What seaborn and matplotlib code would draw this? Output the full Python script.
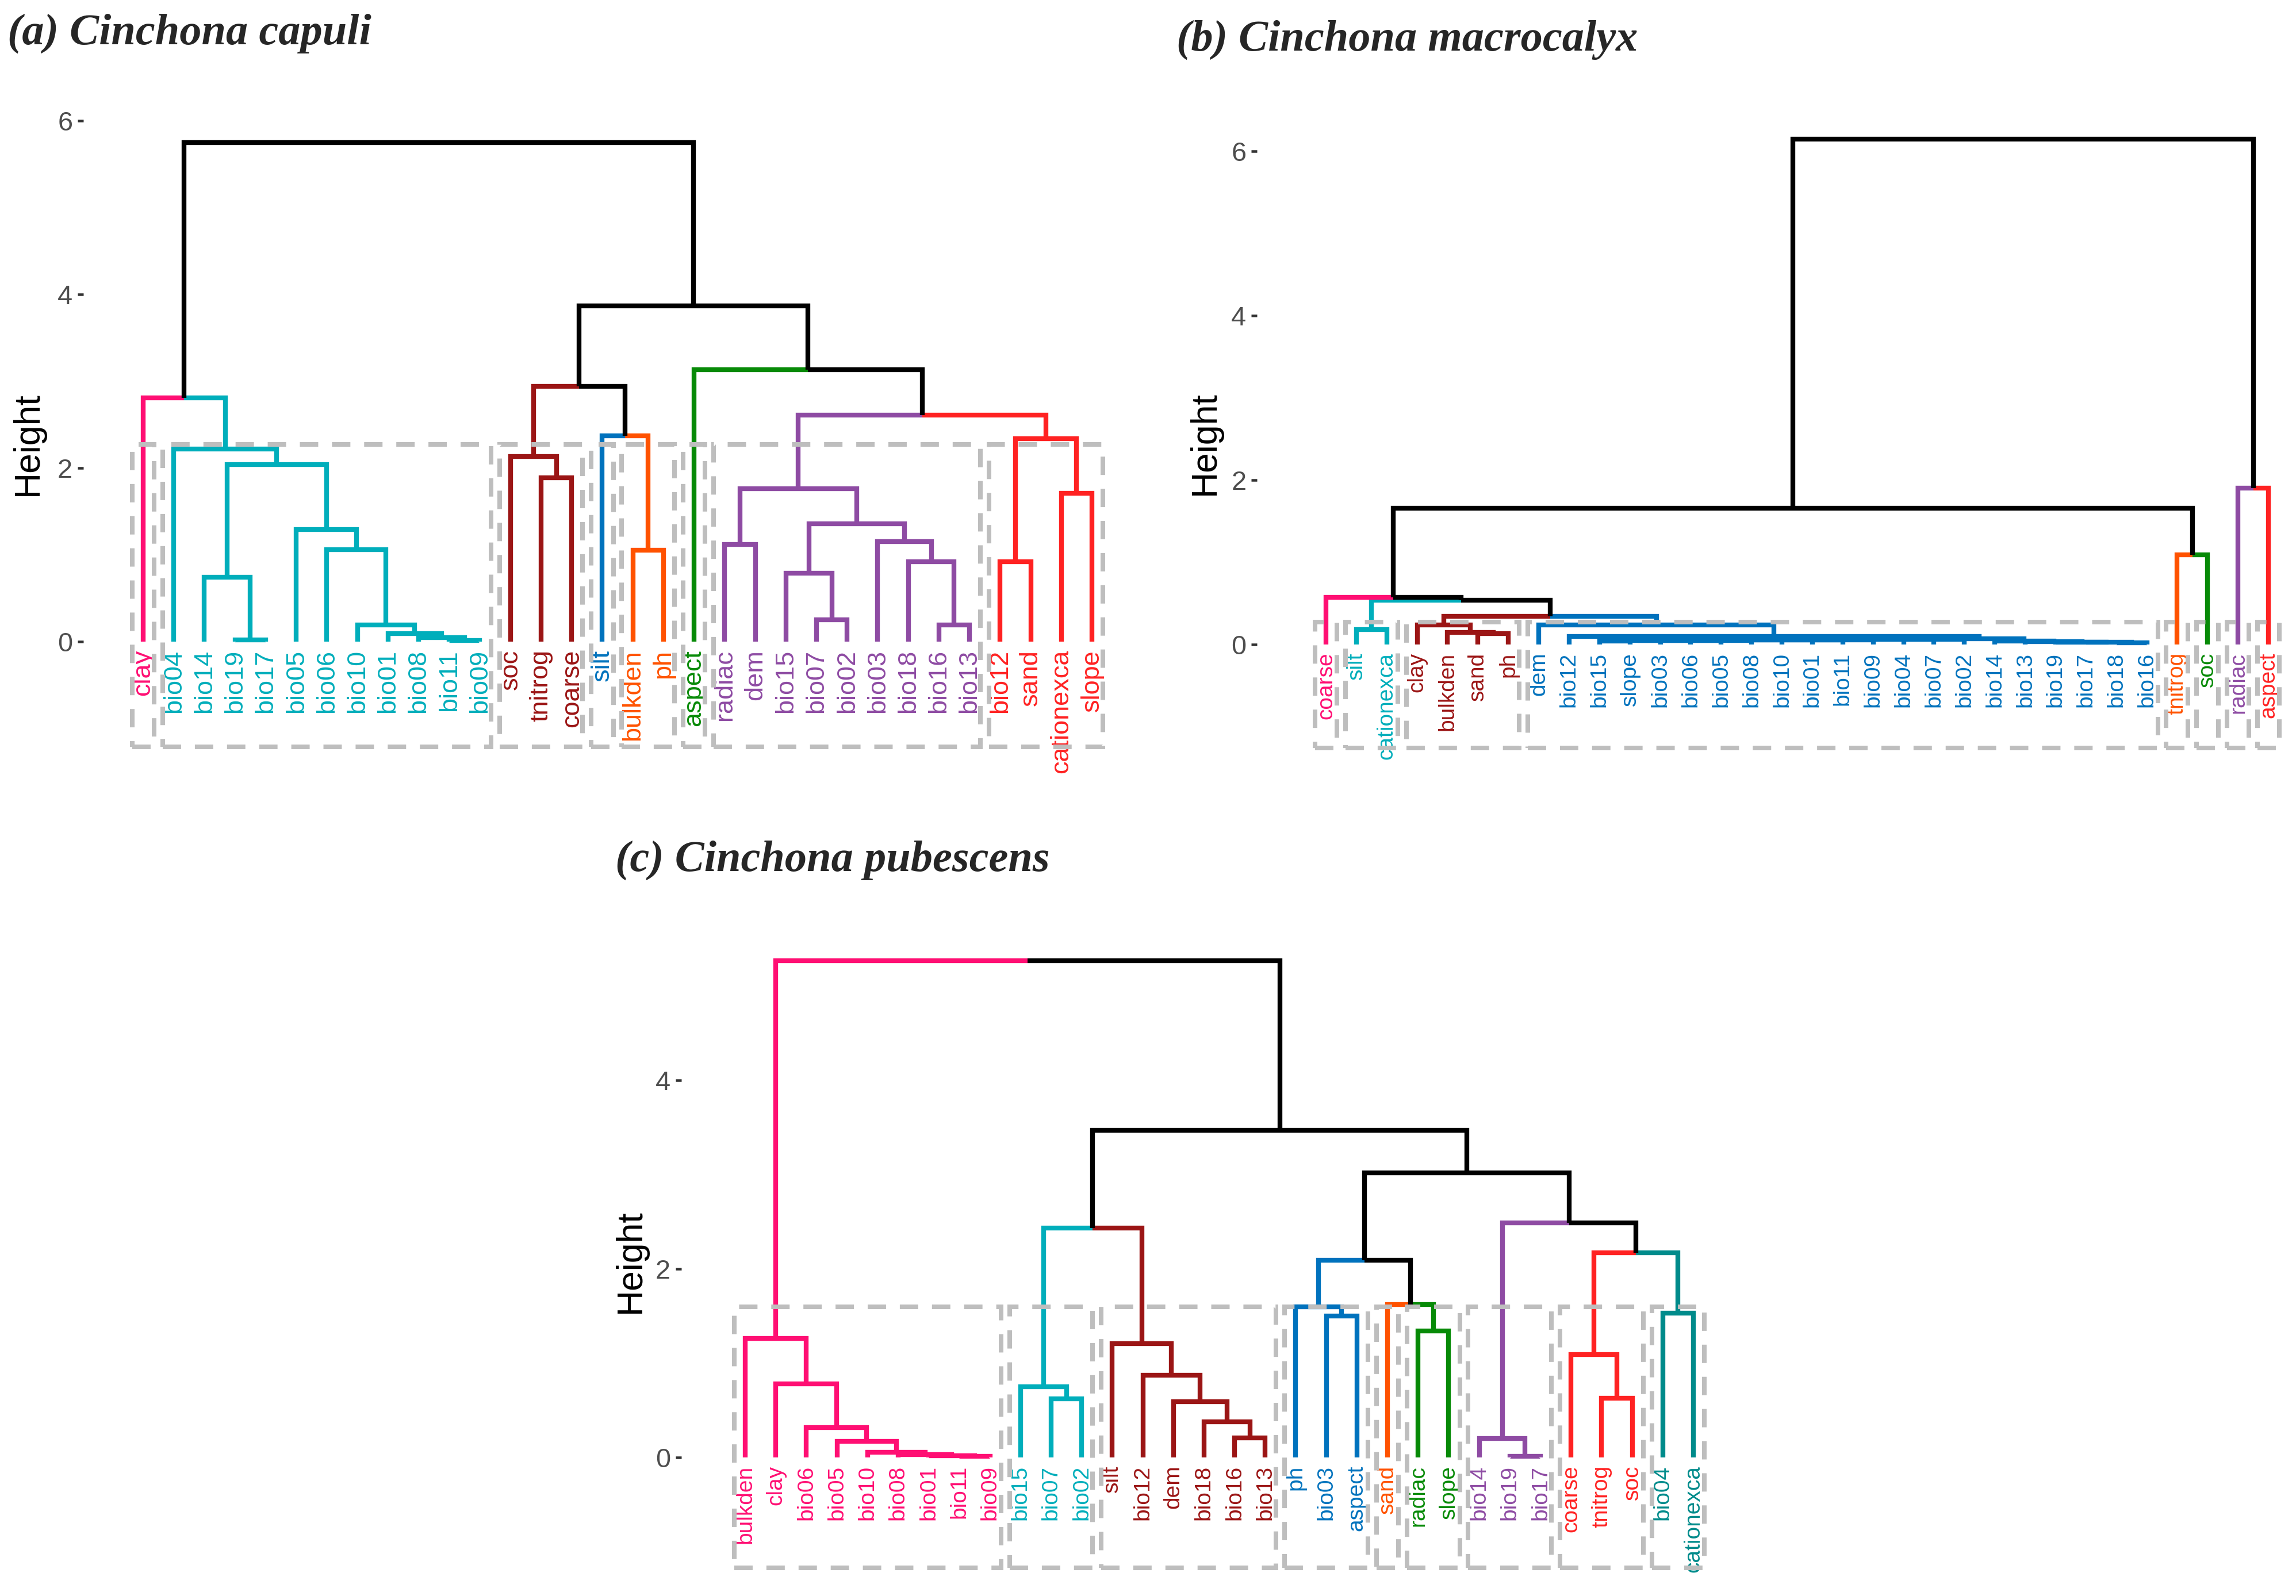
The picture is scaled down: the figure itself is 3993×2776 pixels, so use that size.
import matplotlib
matplotlib.use("Agg")
import matplotlib.pyplot as plt
import matplotlib.transforms as mtransforms
from matplotlib.patches import Rectangle
import seaborn as sns

# ---------------- data ----------------
# (a) Cinchona capuli
leaves_a = ["clay", "bio04", "bio14", "bio19", "bio17", "bio05", "bio06", "bio10", "bio01", "bio08",
            "bio11", "bio09", "soc", "tnitrog", "coarse", "silt", "bulkden", "ph", "aspect", "radiac",
            "dem", "bio15", "bio07", "bio02", "bio03", "bio18", "bio16", "bio13", "bio12", "sand",
            "cationexca", "slope"]
# merges: (left child, right child, height); ints refer to earlier merges
merges_a = [
    ("bio11", "bio09", 0.015), ("bio08", 0, 0.045), ("bio01", 1, 0.09), ("bio10", 2, 0.19),
    ("bio06", 3, 1.06), ("bio05", 4, 1.29), ("bio19", "bio17", 0.02), ("bio14", 6, 0.74),
    (7, 5, 2.04), ("bio04", 8, 2.22), ("clay", 9, 2.81), ("tnitrog", "coarse", 1.89),
    ("soc", 11, 2.13), ("bulkden", "ph", 1.05), ("silt", 13, 2.37), (12, 14, 2.94),
    ("radiac", "dem", 1.12), ("bio07", "bio02", 0.25), ("bio15", 17, 0.79), ("bio16", "bio13", 0.19),
    ("bio18", 19, 0.92), ("bio03", 20, 1.15), (18, 21, 1.36), (16, 22, 1.76),
    ("bio12", "sand", 0.92), ("cationexca", "slope", 1.71), (24, 25, 2.34), (23, 26, 2.61),
    ("aspect", 27, 3.13), (15, 28, 3.87), (10, 29, 5.75),
]
clusters_a = [["clay"],
              ["bio04", "bio14", "bio19", "bio17", "bio05", "bio06", "bio10", "bio01", "bio08", "bio11", "bio09"],
              ["soc", "tnitrog", "coarse"], ["silt"], ["bulkden", "ph"], ["aspect"],
              ["radiac", "dem", "bio15", "bio07", "bio02", "bio03", "bio18", "bio16", "bio13"],
              ["bio12", "sand", "cationexca", "slope"]]

# (b) Cinchona macrocalyx
leaves_b = ["coarse", "silt", "cationexca", "clay", "bulkden", "sand", "ph", "dem", "bio12", "bio15",
            "slope", "bio03", "bio06", "bio05", "bio08", "bio10", "bio01", "bio11", "bio09", "bio04",
            "bio07", "bio02", "bio14", "bio13", "bio19", "bio17", "bio18", "bio16", "tnitrog", "soc",
            "radiac", "aspect"]
merges_b = [
    ("bio15", "slope", 0.045), (0, "bio03", 0.047), (1, "bio06", 0.049), (2, "bio05", 0.05),
    (3, "bio08", 0.052), (4, "bio10", 0.054), (5, "bio01", 0.056), (6, "bio11", 0.057),
    (7, "bio09", 0.058), (8, "bio04", 0.06), (9, "bio07", 0.062), (10, "bio02", 0.064),
    ("bio18", "bio16", 0.02), ("bio17", 12, 0.025), ("bio19", 13, 0.03), ("bio13", 14, 0.035),
    ("bio14", 15, 0.04), (11, 16, 0.068), ("bio12", 17, 0.098), ("dem", 18, 0.235),
    ("sand", "ph", 0.135), ("bulkden", 20, 0.15), ("clay", 21, 0.235), (22, 19, 0.34),
    ("silt", "cationexca", 0.18), (24, 23, 0.535), ("coarse", 25, 0.57), ("tnitrog", "soc", 1.09),
    (26, 27, 1.66), ("radiac", "aspect", 1.90), (28, 29, 6.15),
]
clusters_b = [["coarse"], ["silt", "cationexca"], ["clay", "bulkden", "sand", "ph"],
              ["dem", "bio12", "bio15", "slope", "bio03", "bio06", "bio05", "bio08", "bio10", "bio01",
               "bio11", "bio09", "bio04", "bio07", "bio02", "bio14", "bio13", "bio19", "bio17", "bio18", "bio16"],
              ["tnitrog"], ["soc"], ["radiac"], ["aspect"]]

# (c) Cinchona pubescens
leaves_c = ["bulkden", "clay", "bio06", "bio05", "bio10", "bio08", "bio01", "bio11", "bio09", "bio15",
            "bio07", "bio02", "silt", "bio12", "dem", "bio18", "bio16", "bio13", "ph", "bio03",
            "aspect", "sand", "radiac", "slope", "bio14", "bio19", "bio17", "coarse", "tnitrog", "soc",
            "bio04", "cationexca"]
merges_c = [
    ("bio11", "bio09", 0.01), ("bio01", 0, 0.02), ("bio08", 1, 0.03), ("bio10", 2, 0.055),
    ("bio05", 3, 0.17), ("bio06", 4, 0.32), ("clay", 5, 0.78), ("bulkden", 6, 1.26),
    ("bio07", "bio02", 0.62), ("bio15", 8, 0.75), ("bio16", "bio13", 0.21), ("bio18", 10, 0.38),
    ("dem", 11, 0.59), ("bio12", 12, 0.87), ("silt", 13, 1.21), (9, 14, 2.43),
    ("bio03", "aspect", 1.50), ("ph", 16, 1.60), ("radiac", "slope", 1.34), ("sand", 18, 1.62),
    (17, 19, 2.09), ("bio19", "bio17", 0.01), ("bio14", 21, 0.20), ("tnitrog", "soc", 0.63),
    ("coarse", 23, 1.09), ("bio04", "cationexca", 1.53), (24, 25, 2.17), (22, 26, 2.49),
    (20, 27, 3.02), (15, 28, 3.47), (7, 29, 5.27),
]
clusters_c = [["bulkden", "clay", "bio06", "bio05", "bio10", "bio08", "bio01", "bio11", "bio09"],
              ["bio15", "bio07", "bio02"], ["silt", "bio12", "dem", "bio18", "bio16", "bio13"],
              ["ph", "bio03", "aspect"], ["sand"], ["radiac", "slope"], ["bio14", "bio19", "bio17"],
              ["coarse", "tnitrog", "soc"], ["bio04", "cationexca"]]

PINK, TEAL, DRED, BLUE, ORANGE = "#FF0F73", "#00AEBB", "#9B1515", "#0072BD", "#FF5200"
GREEN, PURPLE, RED, DTEAL = "#078A07", "#8E4BA3", "#FF2222", "#008B8B"
colors_a = [PINK, TEAL, DRED, BLUE, ORANGE, GREEN, PURPLE, RED]
colors_b = [PINK, TEAL, DRED, BLUE, ORANGE, GREEN, PURPLE, RED]
colors_c = [PINK, TEAL, DRED, BLUE, ORANGE, GREEN, PURPLE, RED, DTEAL]

# ---------------- figure ----------------
W, H = 3993, 2776
DPI = 250
sns.set_theme(style="white")
plt.rcParams["font.family"] = ["Liberation Sans", "DejaVu Sans"]
fig = plt.figure(figsize=(W / DPI, H / DPI), dpi=DPI)


def make_axes(left, right, top, bottom, leaf1, leafn, n, zero, unit):
    ax = fig.add_axes([left / W, 1 - bottom / H, (right - left) / W, (bottom - top) / H])
    step = (leafn - leaf1) / (n - 1)
    ax.set_xlim(1 + (left - leaf1) / step, 1 + (right - leaf1) / step)
    ax.set_ylim((zero - bottom) / unit, (zero - top) / unit)
    ax.patch.set_alpha(0)
    return ax


def draw_dend(ax, leaves, merges, clusters, colors, rect_top, rect_bottom, fs, yticks):
    xpos = {name: i + 1 for i, name in enumerate(leaves)}
    leaf_cl = {}
    for k, grp in enumerate(clusters):
        for name in grp:
            leaf_cl[name] = k
    nx, nh, nm = [], [], []

    def info(c):
        if isinstance(c, str):
            return xpos[c], 0.0, {c}
        return nx[c], nh[c], nm[c]

    for left, right, h in merges:
        kids = [info(left), info(right)]
        x = (kids[0][0] + kids[1][0]) / 2
        for xc, hc, mc in kids:
            ks = {leaf_cl[m] for m in mc}
            col = colors[ks.pop()] if len(ks) == 1 else "black"
            ax.plot([x, xc, xc], [h, h, hc], color=col, lw=2.4,
                    solid_capstyle="butt", solid_joinstyle="miter", zorder=2)
        nx.append(x)
        nh.append(h)
        nm.append(kids[0][2] | kids[1][2])

    off = mtransforms.offset_copy(ax.transData, fig=fig, y=-0.055, units="inches")
    for name in leaves:
        ax.text(xpos[name], 0, name, rotation=90, ha="center", va="top",
                color=colors[leaf_cl[name]], fontsize=fs, transform=off, zorder=2)

    for grp in clusters:
        xs = [xpos[n] for n in grp]
        ax.add_patch(Rectangle((min(xs) - 0.36, rect_bottom), max(xs) - min(xs) + 0.72,
                               rect_top - rect_bottom, fill=False, edgecolor="#BEBEBE",
                               lw=2.3, linestyle=(0, (4, 3)), zorder=3))

    sns.despine(ax=ax, left=True, bottom=True)
    ax.set_xticks([])
    ax.set_yticks(yticks)
    ax.set_yticklabels([str(t) for t in yticks])
    ax.tick_params(axis="y", left=True, direction="out", length=2.9, width=1.3,
                   color="#333333", labelsize=13.5, labelcolor="#4D4D4D", pad=2.5)
    ax.grid(False)


ax_a = make_axes(145, 1985, 150, 1400, 249, 1899, 32, 1116, 151)
draw_dend(ax_a, leaves_a, merges_a, clusters_a, colors_a, 2.27, -1.21, 13, [0, 2, 4, 6])

ax_b = make_axes(2186, 3988, 200, 1400, 2306, 3945, 32, 1121, 143)
draw_dend(ax_b, leaves_b, merges_b, clusters_b, colors_b, 0.27, -1.26, 11.2, [0, 2, 4, 6])

ax_c = make_axes(1185, 3000, 1600, 2770, 1296, 2945, 32, 2535, 164)
draw_dend(ax_c, leaves_c, merges_c, clusters_c, colors_c, 1.60, -1.17, 11.2, [0, 2, 4])

# titles and axis labels
title_kw = dict(fontsize=22, fontweight="bold", fontstyle="italic",
                family=["Liberation Serif", "DejaVu Serif"], ha="left", va="center")
fig.text(13 / W, 1 - 58 / H, "(a) Cinchona capuli", **title_kw)
fig.text(2046 / W, 1 - 69 / H, "(b) Cinchona macrocalyx", **title_kw)
fig.text(1070 / W, 1 - 1496 / H, "(c) Cinchona pubescens", **title_kw)

for xp, yp in [(48, 772), (2095, 771), (1096, 2194)]:
    fig.text(xp / W, 1 - yp / H, "Height", rotation=90, ha="center", va="center",
             fontsize=18, color="black")

fig.savefig("out.png", dpi=DPI, facecolor="white")
